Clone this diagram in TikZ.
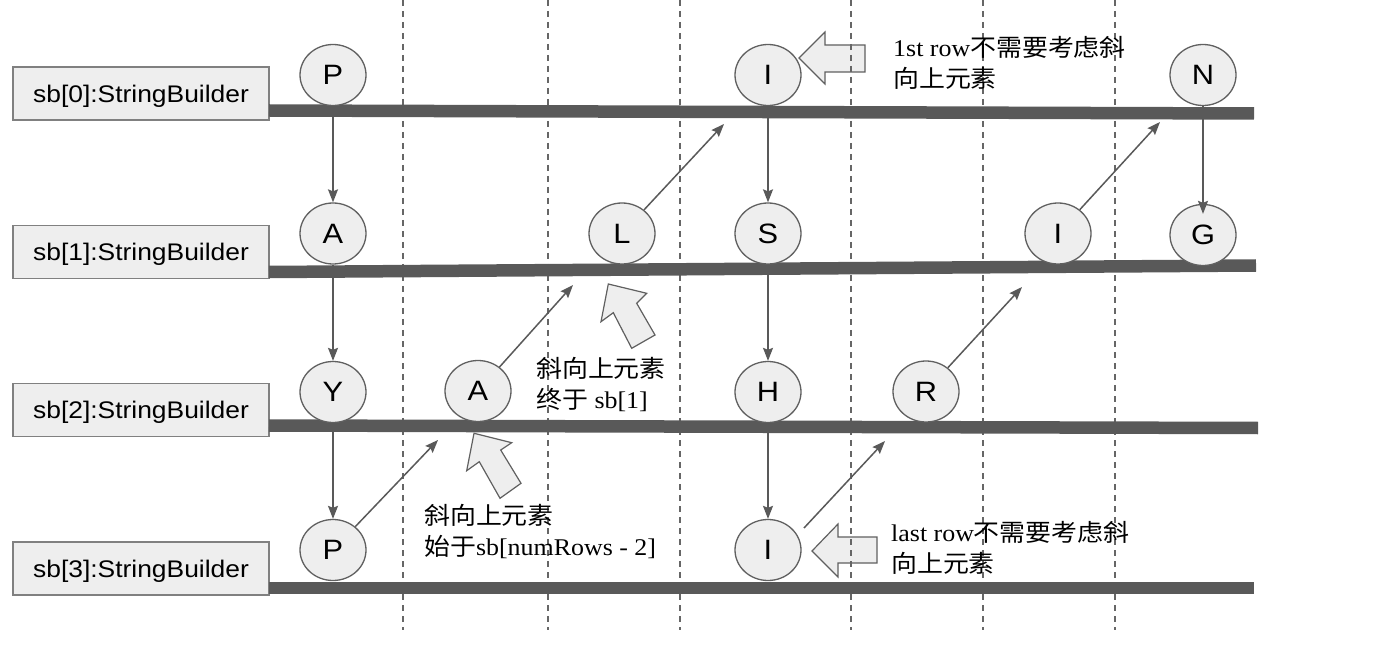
\documentclass[tikz,border=0pt]{standalone}
\usepackage{fontspec}
\setmainfont[FakeStretch=1.08]{Liberation Serif}
\newfontfamily\zhfont[FakeStretch=1.08]{Noto Sans CJK SC}
\newfontfamily\sansfnt[FakeStretch=1.1]{Liberation Sans}
\newcommand\zh[1]{{\zhfont #1}}
\usetikzlibrary{arrows.meta,shapes.geometric}
\definecolor{barc}{HTML}{595959}
\definecolor{cfill}{HTML}{EEEEEE}
\definecolor{cline}{HTML}{606060}
\definecolor{dashc}{HTML}{666666}
\definecolor{boxline}{HTML}{808080}
\begin{document}
\begin{tikzpicture}[x=1pt,y=-1pt,
  letter/.style={ellipse, draw=cline, fill=cfill, line width=1.3pt, minimum width=66pt, minimum height=61pt, inner sep=0pt, text depth=0pt, font=\sansfnt\fontsize{28}{28}\selectfont},
  sbbox/.style={rectangle, draw=boxline, fill=cfill, line width=1.3pt, minimum width=256pt, minimum height=53pt, inner sep=0pt, text depth=0pt, font=\sansfnt\fontsize{24}{24}\selectfont},
  rowbar/.style={draw=barc, line width=12.5pt},
  guide/.style={draw=dashc, line width=1.3pt, dash pattern=on 6pt off 5pt},
  arr/.style={draw=barc, line width=1.5pt, -{Stealth[length=13pt,width=10pt,inset=2pt]}},
  block/.style={draw=cline, fill=cfill, line width=1.2pt, line join=miter},
  note/.style={anchor=west, align=left, inner sep=0pt, font=\fontsize{24}{31}\selectfont}
]
\useasboundingbox (0,0) rectangle (1392,668);

% block arrows
\draw[block] (799,58) -- (825,32) -- (825,45) -- (865,45) -- (865,72) -- (825,72) -- (825,84) -- cycle;
\draw[block] (812,551) -- (838,524) -- (838,537) -- (877,537) -- (877,563) -- (838,563) -- (838,577) -- cycle;
\draw[block] (608.3,284) -- (646.7,293.3) -- (636.7,303.3) -- (655,335) -- (631.7,348.3) -- (613.3,312.7) -- (601,321.7) -- cycle;
\draw[block] (474,433.3) -- (511.7,442.7) -- (500.7,450) -- (521,483.3) -- (500,498.3) -- (479.3,461.7) -- (466.7,470.7) -- cycle;

% guides
\foreach \x in {403,548,680,851,983,1115} \draw[guide] (\x,0) -- (\x,630);

% boxes
\node[sbbox] (box0) at (141,93.5) {sb[0]:StringBuilder};
\node[sbbox] (box1) at (141,252) {sb[1]:StringBuilder};
\node[sbbox] (box2) at (141,410) {sb[2]:StringBuilder};
\node[sbbox] (box3) at (141,568.5) {sb[3]:StringBuilder};

% bars
\coordinate (b0s) at (269,110.5); \coordinate (b0e) at (1254,113.5);
\coordinate (b1s) at (269,272);   \coordinate (b1e) at (1256,265.5);
\coordinate (b2s) at (269,425.5); \coordinate (b2e) at (1258,428);
\coordinate (b3s) at (269,588);   \coordinate (b3e) at (1254,588);
\draw[rowbar] (b0s) -- (b0e);
\draw[rowbar] (b1s) -- (b1e);
\draw[rowbar] (b2s) -- (b2e);
\draw[rowbar] (b3s) -- (b3e);

% circles
\node[letter] (P0) at (333,75) {P};
\node[letter] (I0) at (768,75) {I};
\node[letter] (N0) at (1203,75) {N};
\node[letter] (A1) at (333,233.5) {A};
\node[letter] (L1) at (622,233.5) {L};
\node[letter] (S1) at (768,233.5) {S};
\node[letter] (I1) at (1058,233.5) {I};
\node[letter] (G1) at (1203,235) {G};
\node[letter] (Y2) at (333,392) {Y};
\node[letter] (A2) at (478,391) {A};
\node[letter] (H2) at (768,392) {H};
\node[letter] (R2) at (926,391.5) {R};
\node[letter] (P3) at (333,550) {P};
\node[letter] (I3) at (768,550) {I};

% vertical arrows
\draw[arr] (P0) -- (A1);
\draw[arr] (A1) -- (Y2);
\draw[arr] (Y2) -- (P3);
\draw[arr] (I0) -- (S1);
\draw[arr] (S1) -- (H2);
\draw[arr] (H2) -- (I3);
\draw[arr] (N0) -- ([yshift=-10pt]G1.north);

% diagonal arrows
\coordinate (t1) at (438,440);
\coordinate (t2) at (573,285);
\coordinate (t3) at (724,124);
\coordinate (s4) at (804,528);
\coordinate (t4) at (885,441);
\coordinate (t5) at (1022,287);
\coordinate (t6) at (1160,122);
\draw[arr] (P3) -- (t1);
\draw[arr] (A2) -- (t2);
\draw[arr] (L1) -- (t3);
\draw[arr] (s4) -- (t4);
\draw[arr] (R2) -- (t5);
\draw[arr] (I1) -- (t6);

% notes
\node[note] (n1) at (893,63) {1st row\zh{不需要考虑斜}\\\zh{向上元素}};
\node[note] (n2) at (891,547.5) {last row\zh{不需要考虑斜}\\\zh{向上元素}};
\node[note] (n3) at (536,384.5) {\zh{斜向上元素}\\\zh{终于} sb[1]};
\node[note] (n4) at (424,531) {\zh{斜向上元素}\\\zh{始于}sb[numRows - 2]};
\end{tikzpicture}
\end{document}
